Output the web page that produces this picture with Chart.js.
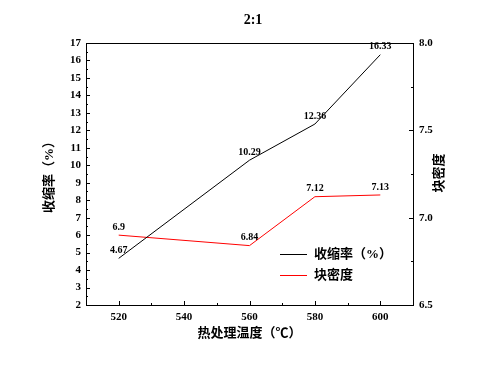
<!DOCTYPE html>
<html>
<head>
<meta charset="utf-8">
<script src="https://cdn.jsdelivr.net/npm/chart.js@4.4.0/dist/chart.umd.min.js"></script>
<style>
  html, body { margin: 0; padding: 0; background: #fff; }
  canvas { display: block; }
</style>
</head>
<body>
<canvas id="chart" width="482" height="369"></canvas>
<script>
// data
const temps = [520, 560, 580, 600];
const shrinkage = [4.67, 10.29, 12.36, 16.33];
const density = [6.9, 6.84, 7.12, 7.13];

const xTicks = [520, 540, 560, 580, 600];
const leftTicks = [2, 3, 4, 5, 6, 7, 8, 9, 10, 11, 12, 13, 14, 15, 16, 17];
const rightTicks = [6.5, 7.0, 7.5, 8.0];

const FONT = "'Liberation Serif', 'Noto Sans CJK SC', serif";

// box round the plot, inward tick marks, point labels, legend and titles
const decorations = {
  id: 'decorations',
  afterDraw(chart) {
    const ctx = chart.ctx;
    const { left, right, top, bottom } = chart.chartArea;
    const sx = chart.scales.x, sy = chart.scales.y, sy1 = chart.scales.y1;

    ctx.save();
    ctx.strokeStyle = '#000';
    ctx.lineWidth = 1;
    ctx.strokeRect(Math.round(left) + 0.5, Math.round(top) + 0.5, Math.round(right - left), Math.round(bottom - top));

    const tick = (x1, y1, x2, y2) => {
      ctx.beginPath();
      ctx.moveTo(x1, y1);
      ctx.lineTo(x2, y2);
      ctx.stroke();
    };
    const mids = arr => arr.slice(1).map((v, i) => (v + arr[i]) / 2);

    xTicks.forEach(v => { const x = Math.round(sx.getPixelForValue(v)) + 0.5; tick(x, bottom, x, bottom - 4); });
    mids(xTicks).forEach(v => { const x = Math.round(sx.getPixelForValue(v)) + 0.5; tick(x, bottom, x, bottom - 2); });
    leftTicks.forEach(v => { const y = Math.round(sy.getPixelForValue(v)) + 0.5; tick(left, y, left + 4, y); });
    mids(leftTicks).forEach(v => { const y = Math.round(sy.getPixelForValue(v)) + 0.5; tick(left, y, left + 2, y); });
    rightTicks.forEach(v => { const y = Math.round(sy1.getPixelForValue(v)) + 0.5; tick(right, y, right - 4, y); });
    mids(rightTicks).forEach(v => { const y = Math.round(sy1.getPixelForValue(v)) + 0.5; tick(right, y, right - 2, y); });

    // value labels just above each point
    ctx.fillStyle = '#000';
    ctx.font = 'bold 10px ' + FONT;
    ctx.textAlign = 'center';
    ctx.textBaseline = 'middle';
    chart.data.datasets.forEach((ds, i) => {
      chart.getDatasetMeta(i).data.forEach((pt, j) => {
        ctx.fillText(String(ds.data[j].y), pt.x, pt.y - 8);
      });
    });

    // legend inside the plot
    ctx.font = 'bold 13px ' + FONT;
    ctx.textAlign = 'left';
    chart.data.datasets.forEach((ds, i) => {
      const y = 254.5 + i * 21;
      ctx.strokeStyle = ds.borderColor;
      tick(280, y, 307, y);
      ctx.fillText(ds.label, 314, y);
    });

    // right axis title reads bottom to top, like the left one
    ctx.textAlign = 'center';
    ctx.save();
    ctx.translate(440, 173);
    ctx.rotate(-Math.PI / 2);
    ctx.fillText('块密度', 0, 0);
    ctx.restore();

    // chart title
    ctx.font = 'bold 14px ' + FONT;
    ctx.fillText('2:1', 253, 20);
    ctx.restore();
  }
};

const tickFont = { family: FONT, size: 11, weight: 'bold' };
const titleFont = { family: FONT, size: 13, weight: 'bold' };

new Chart(document.getElementById('chart'), {
  type: 'line',
  data: {
    datasets: [
      {
        label: '收缩率（%）',
        data: temps.map((t, i) => ({ x: t, y: shrinkage[i] })),
        borderColor: '#000000',
        borderWidth: 1,
        pointRadius: 0,
        yAxisID: 'y'
      },
      {
        label: '块密度',
        data: temps.map((t, i) => ({ x: t, y: density[i] })),
        borderColor: '#ff0000',
        borderWidth: 1,
        pointRadius: 0,
        yAxisID: 'y1'
      }
    ]
  },
  options: {
    responsive: false,
    animation: false,
    layout: { padding: { top: 43, left: 0, right: 0, bottom: 0 } },
    plugins: {
      legend: { display: false },
      tooltip: { enabled: false }
    },
    scales: {
      x: {
        type: 'linear',
        min: 510,
        max: 610,
        afterFit: s => { s.height = 64; },
        afterBuildTicks: s => { s.ticks = xTicks.map(v => ({ value: v })); },
        grid: { display: false, drawTicks: false },
        border: { display: false },
        ticks: { padding: 6, color: '#000', font: tickFont, maxRotation: 0 },
        title: { display: true, text: '热处理温度（℃）', color: '#000', font: titleFont, padding: { top: 0, bottom: 28 } }
      },
      y: {
        position: 'left',
        min: 2,
        max: 17,
        afterFit: s => { s.width = 86; },
        afterBuildTicks: s => { s.ticks = leftTicks.map(v => ({ value: v })); },
        grid: { display: false, drawTicks: false },
        border: { display: false },
        ticks: { padding: 5, color: '#000', font: tickFont },
        title: { display: true, text: '收缩率（%）', color: '#000', font: titleFont, padding: { top: 42, bottom: 0 } }
      },
      y1: {
        position: 'right',
        min: 6.5,
        max: 8.0,
        afterFit: s => { s.width = 69; },
        afterBuildTicks: s => { s.ticks = rightTicks.map(v => ({ value: v })); },
        grid: { display: false, drawTicks: false },
        border: { display: false },
        ticks: { padding: 6, color: '#000', font: tickFont, callback: v => v.toFixed(1) }
      }
    }
  },
  plugins: [decorations]
});
</script>
</body>
</html>
